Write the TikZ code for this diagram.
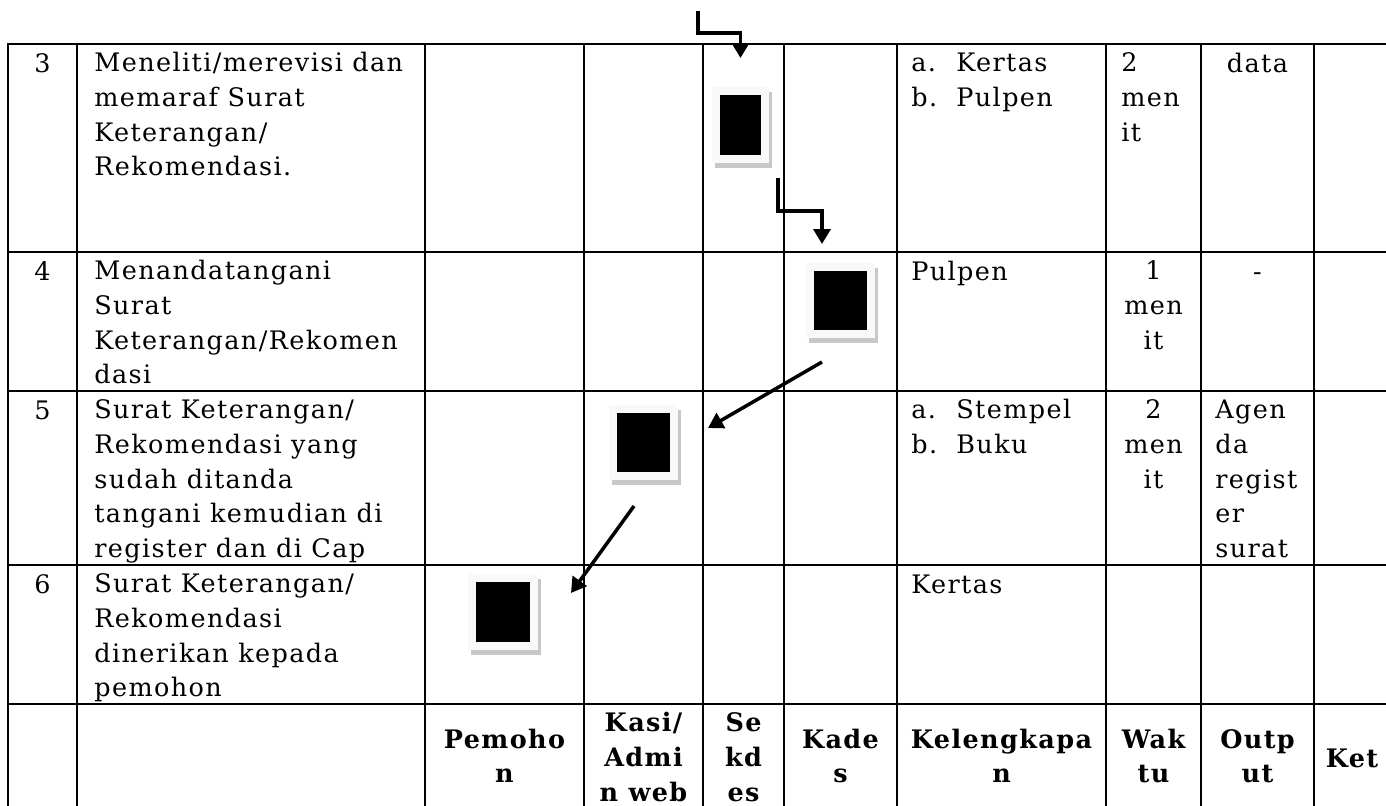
\documentclass[tikz,border=0pt]{standalone}
\usepackage{fontspec}
\setmainfont{DejaVu Serif}[LetterSpace=5.5]
\usetikzlibrary{arrows.meta,shadows}

\newcommand{\cellfont}{\fontsize{14.5pt}{19.7pt}\selectfont}

\begin{document}
\begin{tikzpicture}[x=0.02cm,y=-0.02cm,
  tabline/.style={line width=0.045cm,line cap=rect},
  flow/.style={line width=0.07cm,-{Triangle[width=0.34cm,length=0.3cm]}},
  doc/.style={rectangle,fill=gray!5,minimum width=1.38cm,minimum height=1.5cm,inner sep=0pt,outer sep=0pt,
    path picture={\fill[black] ([shift={(0.16cm,0.16cm)}]path picture bounding box.south west) rectangle ([shift={(-0.16cm,-0.16cm)}]path picture bounding box.north east);},
    general shadow={fill=gray!43,shadow xshift=0.06cm,shadow yshift=-0.1cm}},
  % nodes are placed at the baseline of their last line
  cell/.style={anchor=base west,inner sep=0pt,align=left,font=\cellfont},
  mid/.style={cell,anchor=base,align=center},
  head/.style={mid,font=\cellfont\bfseries}]
\useasboundingbox (0,0) rectangle (1386,805);
\clip (0,0) rectangle (1386,805);

% table lines
\foreach \x in {8,77,425,584,703,784,897,1106,1201,1314}
  \draw[tabline] (\x,44) -- (\x,830);
\foreach \y in {44,252,391,565,704}
  \draw[tabline] (8,\y) -- (1400,\y);

% row 3
\node[mid] (no3) at (42.5,72) {3};
\node[cell] (act3) at (94,175.8) {Meneliti/merevisi dan\\memaraf Surat\\Keterangan/\\Rekomendasi.};
\node[cell] (kel3) at (911,106.6) {\makebox[0.9cm][l]{a.}Kertas\\\makebox[0.9cm][l]{b.}Pulpen};
\node[cell] (wkt3) at (1121,141.2) {2\\men\\it};
\node[mid] (out3) at (1257.5,72) {data};

% row 4
\node[mid] (no4) at (42.5,280) {4};
\node[cell] (act4) at (94,383.8) {Menandatangani\\Surat\\Keterangan/Rekomen\\dasi};
\node[cell] (kel4) at (911,280) {Pulpen};
\node[mid] (wkt4) at (1153.5,349.2) {1\\men\\it};
\node[mid] (out4) at (1257.5,280) {-};

% row 5
\node[mid] (no5) at (42.5,419) {5};
\node[cell] (act5) at (94,557.4) {Surat Keterangan/\\Rekomendasi yang\\sudah ditanda\\tangani kemudian di\\register dan di Cap};
\node[cell] (kel5) at (911,453.6) {\makebox[0.9cm][l]{a.}Stempel\\\makebox[0.9cm][l]{b.}Buku};
\node[mid] (wkt5) at (1153.5,488.2) {2\\men\\it};
\node[cell] (out5) at (1215,557.4) {Agen\\da\\regist\\er\\surat};

% row 6
\node[mid] (no6) at (42.5,593) {6};
\node[cell] (act6) at (94,696.8) {Surat Keterangan/\\Rekomendasi\\dinerikan kepada\\pemohon};
\node[cell] (kel6) at (911,593) {Kertas};

% header
\node[head] (hpem) at (504.5,782.6) {Pemoho\\n};
\node[head] (hkasi) at (643.5,801.2) {Kasi/\\Admi\\n web};
\node[head] (hsek) at (743.5,801.2) {Se\\kd\\es};
\node[head] (hkad) at (840.5,782.6) {Kade\\s};
\node[head] (hkel) at (1001.5,782.6) {Kelengkapa\\n};
\node[head] (hwkt) at (1153.5,782.6) {Wak\\tu};
\node[head] (hout) at (1257.5,782.6) {Outp\\ut};
\node[head] (hket) at (1352,767) {Ket};

% documents
\node[doc,minimum width=1.14cm,minimum height=1.52cm] (sekdes) at (740.5,125) {};
\node[doc] (kades) at (840.5,300.5) {};
\node[doc] (kasi) at (643.5,442.5) {};
\node[doc,minimum width=1.4cm,minimum height=1.52cm] (pemohon) at (503,612) {};

% flow
\coordinate (in) at (698,11);
\draw[flow,shorten >=0.58cm] (in) -- ++(0,22) -| (sekdes.north);
\draw[flow] ([xshift=0.18cm,yshift=-0.3cm]sekdes.south east) -- ++(0,33) -| ([xshift=-0.37cm,yshift=0.38cm]kades.north);
\draw[flow] ([xshift=-0.37cm,yshift=-0.48cm]kades.south) -- ([xshift=0.6cm,yshift=0.29cm]kasi.east);
\draw[flow] ([xshift=-0.19cm,yshift=-0.52cm]kasi.south) -- ([xshift=0.66cm,yshift=0.38cm]pemohon.east);
\end{tikzpicture}
\end{document}
